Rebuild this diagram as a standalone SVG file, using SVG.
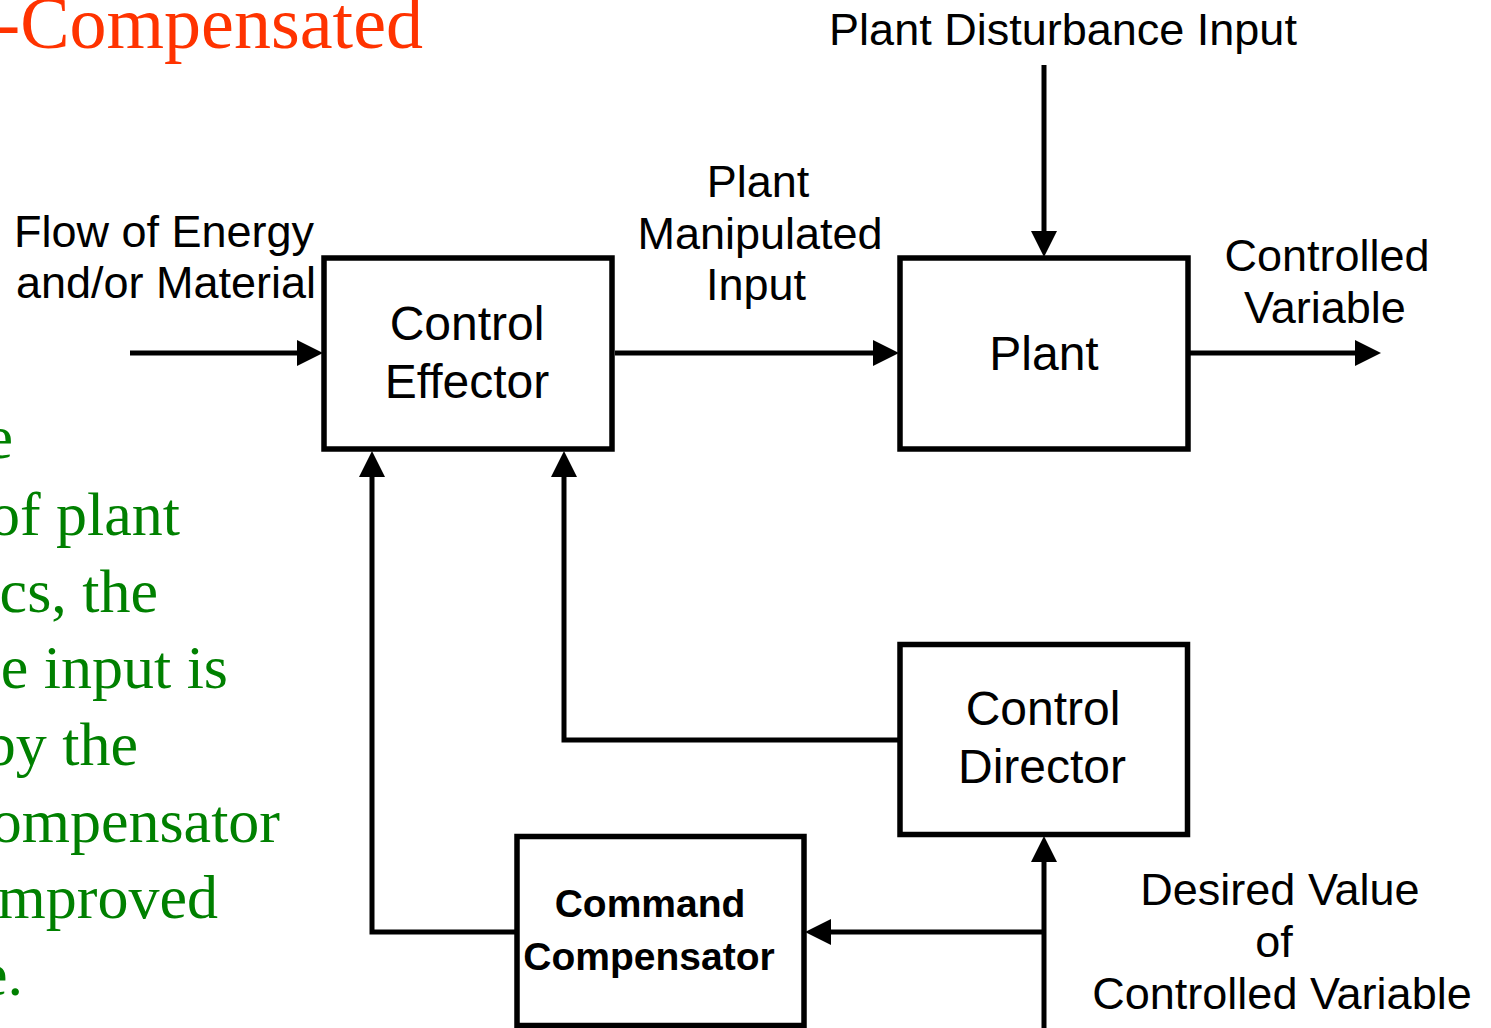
<svg xmlns="http://www.w3.org/2000/svg" width="1491" height="1028" viewBox="0 0 1491 1028">
<style>
.box{fill:#fff;stroke:#000;stroke-width:5.5}
.lbl{font-family:"Liberation Sans",Arial,sans-serif;font-size:45px;fill:#000;text-anchor:middle}
.nt{font-family:"Liberation Sans",Arial,sans-serif;font-size:48px;fill:#000;text-anchor:middle}
.bt{font-family:"Liberation Sans",Arial,sans-serif;font-size:39px;font-weight:bold;fill:#000;text-anchor:middle}
.grn{font-family:"Liberation Serif","Times New Roman",serif;font-size:62px;fill:#008000;text-anchor:end}
.red{font-family:"Liberation Serif","Times New Roman",serif;font-size:74px;fill:#FF3300;text-anchor:end}
.ln{fill:none;stroke:#000;stroke-width:5;marker-end:url(#ah)}
</style>
<defs>
<marker id="ah" markerUnits="userSpaceOnUse" viewBox="0 0 26 26" refX="0" refY="13" markerWidth="26" markerHeight="26" orient="auto">
<path d="M0,0 L26,13 L0,26 z" fill="#000"/>
</marker>
</defs>
<rect x="0" y="0" width="1491" height="1028" fill="#fff"/>

<g id="side-text">
<text class="red" x="423" y="48">-Compensated</text>
<text class="grn" x="13" y="458">e</text>
<text class="grn" x="180" y="535">of plant</text>
<text class="grn" x="158" y="612">cs, the</text>
<text class="grn" x="228" y="688">e input is</text>
<text class="grn" x="138" y="765">by the</text>
<text class="grn" x="280" y="842">ompensator</text>
<text class="grn" x="218" y="918">mproved</text>
<text class="grn" x="23" y="995">e.</text>
</g>

<g id="connectors">
<line class="ln" x1="130" y1="353" x2="297" y2="353"/>
<line class="ln" x1="615" y1="353" x2="873" y2="353"/>
<line class="ln" x1="1190" y1="353" x2="1355" y2="353"/>
<line class="ln" x1="1044" y1="65" x2="1044" y2="231"/>
<path class="ln" d="M517,932 H372 V477"/>
<path class="ln" d="M900,740 H564 V477"/>
<line class="ln" x1="1044" y1="1030" x2="1044" y2="862"/>
<line class="ln" x1="1044" y1="932" x2="831" y2="932"/>
</g>

<g id="labels">
<text class="lbl" x="1063" y="45">Plant Disturbance Input</text>
<text class="lbl" x="164" y="247">Flow of Energy</text>
<text class="lbl" x="166" y="298">and/or Material</text>
<text class="lbl" x="758" y="197">Plant</text>
<text class="lbl" x="760" y="249">Manipulated</text>
<text class="lbl" x="756" y="300">Input</text>
<text class="lbl" x="1327" y="271">Controlled</text>
<text class="lbl" x="1325" y="323">Variable</text>
<text class="lbl" x="1280" y="905">Desired Value</text>
<text class="lbl" x="1274" y="957">of</text>
<text class="lbl" x="1282" y="1009">Controlled Variable</text>
</g>

<g id="control-effector">
<rect class="box" x="324" y="258" width="288" height="191"/>
<text class="nt" x="467" y="340">Control</text>
<text class="nt" x="467" y="398">Effector</text>
</g>

<g id="plant">
<rect class="box" x="900" y="258" width="288" height="191"/>
<text class="nt" x="1044" y="370">Plant</text>
</g>

<g id="control-director">
<rect class="box" x="900" y="644.5" width="287.5" height="190"/>
<text class="nt" x="1043" y="725">Control</text>
<text class="nt" x="1042" y="783">Director</text>
</g>

<g id="command-compensator">
<rect class="box" x="517" y="836.5" width="287" height="189"/>
<text class="bt" x="650" y="917">Command</text>
<text class="bt" x="649" y="970">Compensator</text>
</g>
</svg>
